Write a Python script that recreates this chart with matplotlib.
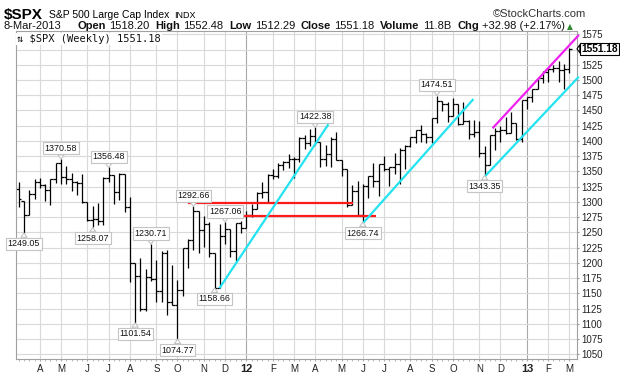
"""Weekly $SPX bar chart (StockCharts style) with hand-drawn trend lines."""

import matplotlib

matplotlib.use("Agg")
import matplotlib.pyplot as plt  # noqa: E402
import numpy as np  # noqa: E402
import pandas as pd  # noqa: E402

plt.rcParams["font.family"] = ["Liberation Sans", "DejaVu Sans"]

FIRST_WEEK = "2011-03-07"  # Monday of the first weekly bar

# weekly OHLC, week of 7-Mar-2011 .. week of 4-Mar-2013
opens = [
    1321.15, 1301.19, 1279.21, 1313.80, 1332.41, 1328.17, 1319.68, 1337.38, 1363.61, 1340.20,
    1337.77, 1333.27, 1331.10, 1300.16, 1270.98, 1271.50, 1268.45, 1339.67, 1343.80, 1316.14,
    1345.02, 1292.28, 1199.38, 1178.81, 1123.53, 1176.80, 1173.97, 1154.23, 1216.01, 1136.43,
    1131.42, 1155.46, 1224.58, 1238.25, 1285.09, 1253.23, 1263.85, 1215.65, 1158.67, 1244.28,
    1255.19, 1219.66, 1265.33,
    1257.60, 1277.81, 1289.09, 1315.38, 1316.33, 1344.90, 1342.64, 1361.23, 1365.74, 1369.63,
    1370.87, 1404.17, 1397.11, 1408.47, 1398.08, 1370.26, 1378.53, 1403.36, 1369.10, 1353.39,
    1295.22, 1317.82, 1278.04, 1325.66, 1342.84, 1335.02, 1362.16, 1354.68, 1356.78, 1362.66,
    1385.97, 1390.99, 1405.87, 1418.16, 1411.13, 1406.58, 1437.92, 1465.77, 1460.15, 1440.67,
    1460.93, 1428.59, 1433.19, 1411.94, 1414.20, 1379.85, 1359.88, 1409.15, 1416.18, 1418.07,
    1413.58, 1430.15,
    1402.43, 1466.47, 1472.05, 1485.98, 1502.96, 1513.17, 1517.93, 1519.79, 1515.60, 1518.20,
]
highs = [
    1332.28, 1301.19, 1319.18, 1337.85, 1339.46, 1329.77, 1337.49, 1364.56, 1370.58, 1359.44,
    1346.82, 1334.62, 1345.20, 1300.16, 1292.50, 1298.61, 1341.01, 1356.48, 1343.80, 1347.00,
    1345.02, 1307.38, 1199.38, 1208.47, 1190.68, 1230.71, 1204.40, 1220.06, 1220.39, 1195.86,
    1171.40, 1224.61, 1239.00, 1292.66, 1285.09, 1277.55, 1266.98, 1215.65, 1264.25, 1267.06,
    1255.19, 1265.42, 1269.37,
    1284.62, 1296.82, 1315.49, 1333.47, 1345.34, 1354.32, 1363.40, 1367.76, 1378.04, 1374.00,
    1406.00, 1409.00, 1419.15, 1422.38, 1398.08, 1392.76, 1406.64, 1415.32, 1369.10, 1354.00,
    1328.49, 1334.93, 1329.05, 1343.32, 1363.46, 1362.17, 1374.81, 1357.00, 1380.39, 1389.19,
    1394.16, 1405.98, 1418.71, 1426.68, 1413.46, 1437.92, 1474.51, 1465.77, 1463.46, 1470.96,
    1461.00, 1464.02, 1433.82, 1434.27, 1433.38, 1391.39, 1409.16, 1421.00, 1424.00, 1438.59,
    1448.00, 1430.15,
    1467.94, 1472.30, 1485.98, 1503.26, 1514.41, 1518.31, 1524.69, 1530.94, 1525.84, 1552.48,
]
lows = [
    1291.99, 1249.05, 1279.21, 1305.26, 1322.94, 1302.00, 1294.70, 1331.47, 1329.17, 1329.00,
    1318.51, 1311.80, 1297.90, 1268.19, 1258.07, 1262.87, 1262.66, 1333.00, 1295.92, 1303.00,
    1282.86, 1168.09, 1101.54, 1121.00, 1121.09, 1170.00, 1136.07, 1136.22, 1114.22, 1131.00,
    1074.77, 1146.00, 1191.48, 1221.00, 1215.42, 1226.64, 1209.43, 1158.66, 1158.66, 1231.47,
    1209.47, 1202.37, 1248.64,
    1257.60, 1274.65, 1289.09, 1306.06, 1300.49, 1337.35, 1340.00, 1352.00, 1354.92, 1340.03,
    1365.00, 1386.87, 1391.56, 1392.92, 1357.38, 1358.79, 1358.00, 1367.96, 1343.13, 1291.98,
    1295.22, 1277.25, 1266.74, 1306.62, 1324.41, 1309.27, 1350.00, 1325.41, 1345.00, 1329.24,
    1354.65, 1390.00, 1397.00, 1398.04, 1397.01, 1396.56, 1429.13, 1449.57, 1430.53, 1440.67,
    1425.53, 1428.59, 1403.28, 1405.95, 1373.03, 1343.35, 1359.88, 1385.43, 1398.23, 1411.88,
    1413.54, 1401.58,
    1398.11, 1451.64, 1463.76, 1485.16, 1495.29, 1495.99, 1513.61, 1497.29, 1485.01, 1512.29,
]
closes = [
    1304.28, 1279.21, 1313.80, 1332.41, 1328.17, 1319.68, 1337.38, 1363.61, 1340.20, 1337.77,
    1333.27, 1331.10, 1300.16, 1270.98, 1271.50, 1268.45, 1339.67, 1343.80, 1316.14, 1345.02,
    1292.28, 1199.38, 1178.81, 1123.53, 1176.80, 1173.97, 1154.23, 1216.01, 1136.43, 1131.42,
    1155.46, 1224.58, 1238.25, 1285.09, 1253.23, 1263.85, 1215.65, 1158.67, 1244.28, 1255.19,
    1219.66, 1265.33, 1257.60,
    1277.81, 1289.09, 1315.38, 1316.33, 1344.90, 1342.64, 1361.23, 1365.74, 1369.63, 1370.87,
    1404.17, 1397.11, 1408.47, 1398.08, 1370.26, 1378.53, 1403.36, 1369.10, 1353.39, 1295.22,
    1317.82, 1278.04, 1325.66, 1342.84, 1335.02, 1362.16, 1354.68, 1356.78, 1362.66, 1385.97,
    1390.99, 1405.87, 1418.16, 1411.13, 1406.58, 1437.92, 1465.77, 1460.15, 1440.67, 1460.93,
    1428.59, 1433.19, 1411.94, 1414.20, 1379.85, 1359.88, 1409.15, 1416.18, 1418.07, 1413.58,
    1430.15, 1402.43,
    1466.47, 1472.05, 1485.98, 1502.96, 1513.17, 1517.93, 1519.79, 1515.60, 1518.20, 1551.18,
]

# swing high / low call-outs: week index, value, side
label_weeks = [1, 8, 14, 17, 22, 25, 30, 33, 37, 39, 56, 65, 79, 88]
label_values = [1249.05, 1370.58, 1258.07, 1356.48, 1101.54, 1230.71, 1074.77,
                1292.66, 1158.66, 1267.06, 1422.38, 1266.74, 1474.51, 1343.35]
label_sides = ["below", "above", "below", "above", "below", "above", "below",
               "above", "below", "above", "above", "below", "above", "below"]

# annotation lines drawn on the chart: (week0, value0, week1, value1)
red_lines = [(32.0, 1297.7, 63.2, 1297.7), (39.3, 1277.4, 67.5, 1277.4)]
cyan_lines = [(37.9, 1158.2, 58.5, 1427.3), (65.0, 1264.9, 85.9, 1468.8),
              (87.9, 1340.4, 105.8, 1505.4)]
magenta_lines = [(89.5, 1420.8, 105.8, 1573.8)]

y_ticks = list(range(1050, 1576, 25))
last_close = 1551.18

W, H = 620, 376
GRID = "#d9d9d9"
RED, CYAN, MAGENTA = "#ff1a1a", "#22e3ef", "#f020f0"


def put_runs(fig, runs, x, y, size):
    """Place text pieces one after another along a baseline (pixel coords)."""
    r = fig.canvas.get_renderer()
    for s, bold, gap in runs:
        t = fig.text(x / W, 1 - y / H, s, fontsize=size,
                     fontweight="bold" if bold else "normal", va="baseline",
                     color="#111111")
        x = t.get_window_extent(renderer=r).x1 + gap


fig = plt.figure(figsize=(W / 100, H / 100), dpi=100)
ax = fig.add_axes([16 / W, 1 - 359 / H, (577 - 16) / W, (359 - 31.3) / H])

weeks = pd.date_range(FIRST_WEEK, periods=len(closes), freq="W-MON")
x = np.arange(len(closes))

# month grid / labels at the first week of each month
month_idx, month_lab = [], []
for i in range(1, len(weeks)):
    if weeks[i].month != weeks[i - 1].month:
        month_idx.append(i)
        m = weeks[i].month
        month_lab.append(f"{weeks[i].year % 100}" if m == 1 else "JFMAMJJASOND"[m - 1])

ax.set_xlim(-0.5, 105.45)
ax.set_ylim(1042.3, 1579.9)
ax.set_xticks(month_idx)
ax.set_xticklabels(month_lab)
ax.set_xticks(x, minor=True)
ax.yaxis.tick_right()
ax.set_yticks(y_ticks)
ax.set_yticklabels(["" if v == 1550 else str(v) for v in y_ticks])
ax.grid(color=GRID, lw=0.8)
for i, gl in enumerate(ax.get_xgridlines()):
    if month_lab[i].isdigit():
        gl.set_color("#a8a8a8")
ax.set_axisbelow(True)
ax.tick_params(axis="y", length=1.5, pad=1.5, labelsize=7, colors="#999999",
               labelcolor="#222222")
ax.tick_params(axis="x", which="both", length=1.5, pad=2, labelsize=7,
               colors="#aaaaaa", labelcolor="#222222")
for t in ax.get_xticklabels():
    if t.get_text().isdigit():
        t.set_fontweight("bold")
        t.set_fontsize(8)
for s in ax.spines.values():
    s.set_color("#a0a0a0")
    s.set_linewidth(0.8)

# OHLC bars
ax.vlines(x, lows, highs, color="black", lw=0.9)
ax.hlines(opens, x - 0.5, x, color="black", lw=0.9)
ax.hlines(closes, x, x + 0.5, color="black", lw=0.9)

for lines, col in ((red_lines, RED), (cyan_lines, CYAN), (magenta_lines, MAGENTA)):
    for x0, y0, x1, y1 in lines:
        ax.plot([x0, x1], [y0, y1], color=col, lw=1.6, solid_capstyle="butt",
                clip_on=False, zorder=4)

for wk, val, side in zip(label_weeks, label_values, label_sides):
    dy = 7.6 if side == "above" else -7.8
    ax.annotate(f"{val:.2f}", xy=(wk, val), xytext=(0, dy), textcoords="offset points",
                ha="center", va="center", fontsize=6.4, color="#111111", zorder=5,
                bbox=dict(boxstyle="square,pad=0.18", fc="white", ec="#c4c4c4", lw=0.8),
                arrowprops=dict(arrowstyle="wedge,tail_width=0.7", fc="white",
                                ec="#c4c4c4", lw=0.8, shrinkA=0, shrinkB=0))

# last price tag on the price axis
ax.annotate(f"{last_close:.2f}", xy=(1.0, last_close), xycoords=ax.get_yaxis_transform(),
            xytext=(3.2, 0), textcoords="offset points", ha="left", va="center",
            fontsize=7.3, fontweight="bold", color="black", zorder=6, annotation_clip=False,
            bbox=dict(boxstyle="square,pad=0.12", fc="white", ec="black", lw=0.8),
            arrowprops=dict(arrowstyle="wedge,tail_width=0.8", fc="white", ec="black",
                            lw=0.8, shrinkA=0, shrinkB=0))

ax.text(0.002, 0.992, "\u21c5 $SPX (Weekly) 1551.18", transform=ax.transAxes,
        family="DejaVu Sans Mono", fontsize=7.5, va="top", ha="left", color="#111111",
        bbox=dict(fc="white", ec="none", pad=1.0), zorder=6)

# header
fig.text(4 / W, 1 - 19 / H, "$SPX", fontsize=11, fontweight="bold", va="baseline")
fig.text(49 / W, 1 - 18 / H, "S&P 500 Large Cap Index", fontsize=7.5, va="baseline")
fig.text(174 / W, 1 - 18 / H, "INDX", fontsize=6.5, va="baseline")
fig.text(586 / W, 1 - 17 / H, "\u00a9StockCharts.com", fontsize=8, ha="right",
         va="baseline", color="#333333")
put_runs(fig, [("8-Mar-2013", False, 16), ("Open", True, 3), ("1518.20", False, 6),
               ("High", True, 3), ("1552.48", False, 6), ("Low", True, 3),
               ("1512.29", False, 6), ("Close", True, 3), ("1551.18", False, 6),
               ("Volume", True, 3), ("11.8B", False, 6), ("Chg", True, 3),
               ("+32.98 (+2.17%)", False, 3)], 4, 29, 8)
fig.text(567 / W, 1 - 29 / H, "\u25b2", fontsize=5.5, va="baseline", color="#2e8b2e",
         family="DejaVu Sans")

fig.savefig("out.png", dpi=100)
